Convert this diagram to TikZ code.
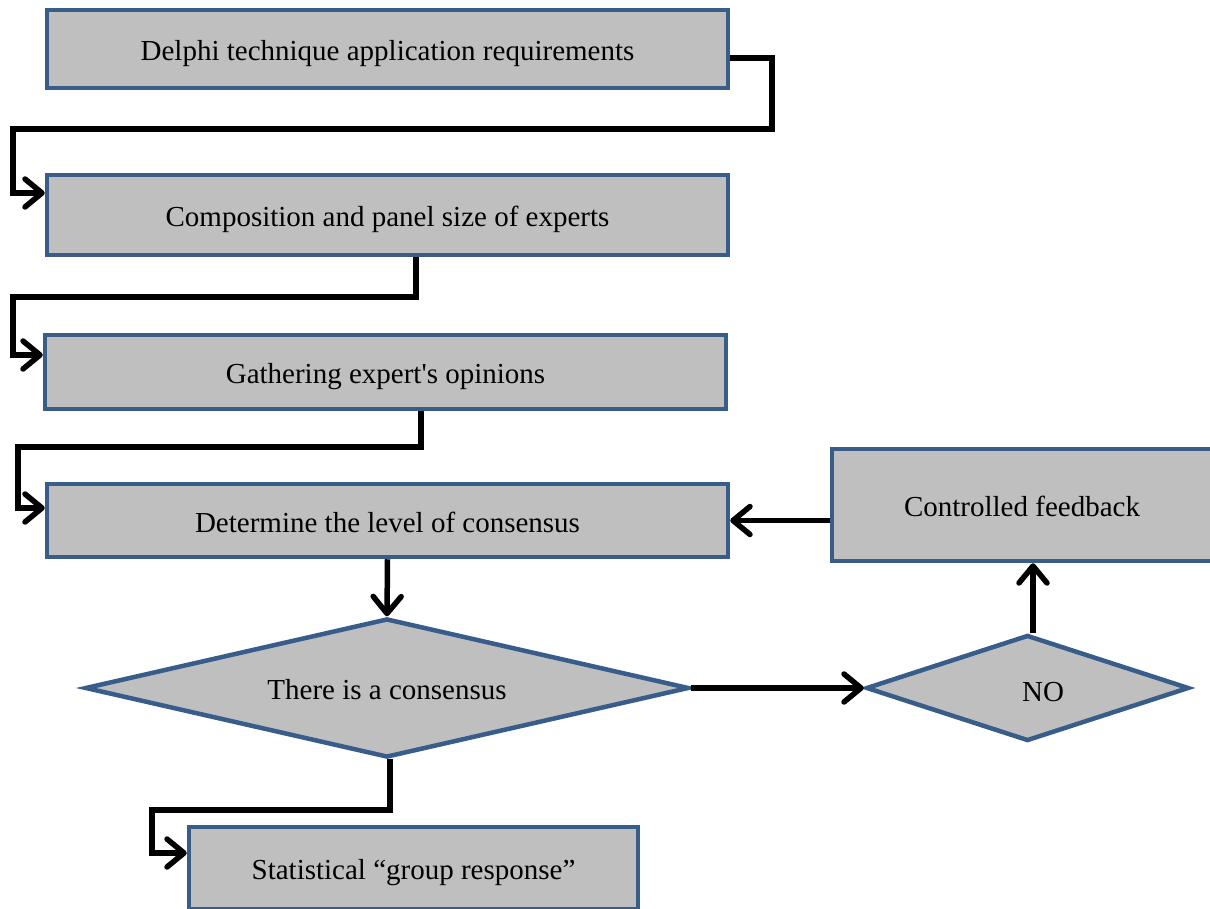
\documentclass[tikz,border=0pt]{standalone}
\usepackage{fontspec}
\newfontfamily\boxserif{Liberation Serif}
\usetikzlibrary{shapes.geometric,arrows.meta,calc}
\definecolor{boxfill}{RGB}{191,191,191}
\definecolor{boxline}{RGB}{56,93,138}
\begin{document}
\begin{tikzpicture}[x=1pt,y=-1pt,
  procbox/.style={draw=boxline,fill=boxfill,line width=4.5pt,rectangle,inner sep=0pt,
    font=\boxserif\fontsize{29}{35}\selectfont,text depth=0pt,text height=23pt},
  decision/.style={draw=boxline,fill=boxfill,line width=4.5pt,diamond,inner sep=0pt},
  conn/.style={line width=5.5pt,line join=miter,-{Straight Barb[length=17pt,width=28pt,line cap=round,line join=round]}},
  plain/.style={font=\boxserif\fontsize{29}{35}\selectfont,inner sep=0pt,text depth=0pt,text height=23pt}]
\useasboundingbox (0,0) rectangle (1210,909);
\clip (0,0) rectangle (1210,909);

% process boxes
\node[procbox,minimum width=681pt,minimum height=78pt] (req) at (387.5,49) {Delphi technique application requirements};
\node[procbox,minimum width=681pt,minimum height=80pt] (panel) at (387.5,215) {Composition and panel size of experts};
\node[procbox,minimum width=681pt,minimum height=74pt] (gather) at (385.5,372) {Gathering expert's opinions};
\node[procbox,minimum width=681pt,minimum height=73pt] (level) at (387.5,520.5) {Determine the level of consensus};
\node[procbox,minimum width=380pt,minimum height=112pt] (feedback) at (1022,505) {Controlled feedback};
\node[procbox,minimum width=449pt,minimum height=82pt] (stat) at (413.5,868) {Statistical “group response”};

% decisions, drawn empty with their texts set on top
\node[decision,minimum width=604pt,minimum height=139pt] (cons) at (387,688) {};
\node[plain] (conslabel) at (387,688) {There is a consensus};
\node[decision,minimum width=323pt,minimum height=106pt] (no) at (1027.5,688) {};
\node[plain] (nolabel) at (1043,690) {NO};

% elbow connectors down the left side
\draw[conn] ($(req.east)+(0,9)$) -- (772,58) -- (772,129) -- (13,129) -- (13,193) -- (panel.west |- 0,193);
\draw[conn] (panel.south -| 416,0) -- (416,297) -- (13,297) -- (13,355) -- (gather.west |- 0,355);
\draw[conn] (gather.south -| 421,0) -- (421,447) -- (18,447) -- (18,508) -- (level.west |- 0,508);

% main flow and feedback loop
\draw[conn] (level.south) -- (cons.north);
\draw[conn] (cons.east) -- (no.west);
\draw[conn] (no.north -| 1033,0) -- (feedback.south -| 1033,0);
\draw[conn] (feedback.west |- level.east) -- (level.east);
\draw[conn] ($(cons.south)+(3,-1)$) -- (390,810) -- (152,810) -- (152,853) -- (stat.west |- 0,853);
\end{tikzpicture}
\end{document}
